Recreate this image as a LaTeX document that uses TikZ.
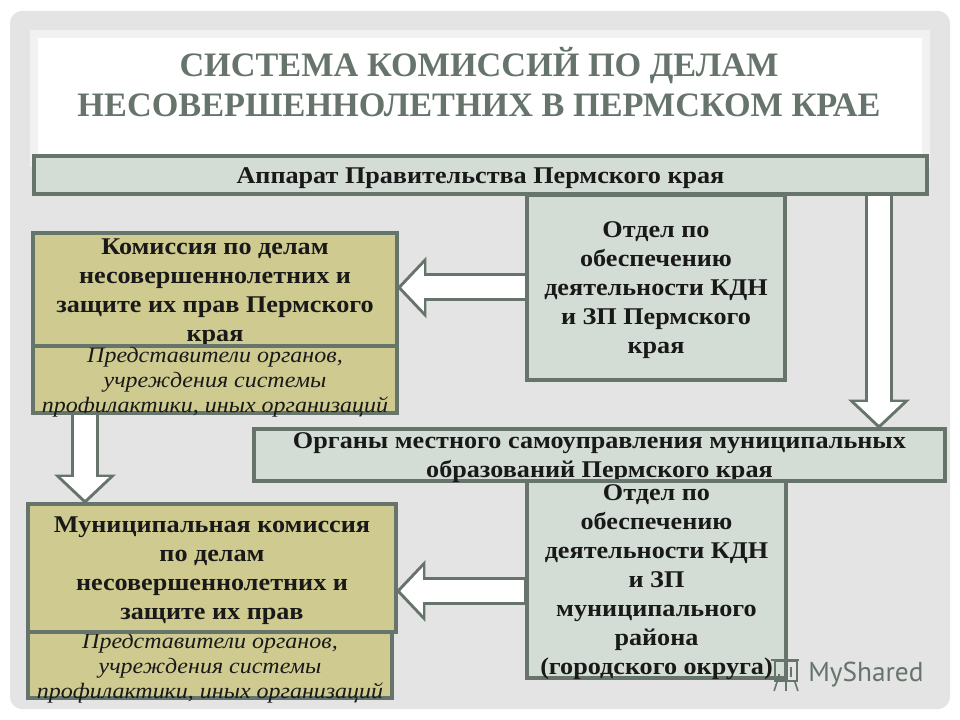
\documentclass[tikz,border=0pt]{standalone}
\usepackage{fontspec}
\setmainfont[FakeStretch=1.09]{Liberation Serif}
\newfontfamily\titlefont{Liberation Serif}
\newfontfamily\wmfont{PT Sans}
\usepackage{xcolor}
\usetikzlibrary{positioning,arrows.meta}
\definecolor{slate}{HTML}{66746B}
\definecolor{sage}{HTML}{D3DDD5}
\definecolor{khaki}{HTML}{CFCB90}
\definecolor{panelgray}{HTML}{E3E4E3}
\definecolor{bandgray}{HTML}{F1F1F1}
\def\px{0.75pt}
\newcommand{\fittxt}[2]{\smash{\raisebox{-6.5pt}{\parbox[c]{\dimexpr 0.75pt*#1\relax}{\centering #2}}}}
\newcommand{\mainsz}{\fontsize{18}{21.75}\selectfont}
\newcommand{\smallsz}{\fontsize{16.5}{18.6}\selectfont}

\begin{document}
\begin{tikzpicture}[x=0.75pt, y=-0.75pt,
  box/.style={draw=slate, line width=2.4pt, inner sep=0pt, outer sep=0pt, align=center, text=black!90},
  dept/.style={box, fill=sage, font=\mainsz\bfseries},
  comm/.style={box, fill=khaki, font=\mainsz\bfseries},
  reps/.style={box, fill=khaki, font=\smallsz\itshape},
  blockarr/.style={
    preaction={draw=slate, line width=21pt, shorten <=0pt, shorten >=0pt, -{Triangle[length=22pt, width=45pt]}},
    draw=white, line width=16.5pt, shorten <=1.2pt, shorten >=3.2pt,
    -{Triangle[length=17pt, width=35pt]}}]
\path[use as bounding box, fill=white] (0,0) rectangle (960,720);
\node[fill=panelgray, rounded corners=9pt, inner sep=0pt, minimum width=940*\px, minimum height=698*\px] (panel) at (480,360) {};
\node[fill=bandgray, inner sep=0pt, minimum width=900*\px, minimum height=137*\px] (band) at (480,98.5) {};
\node[fill=white, inner sep=0pt, minimum width=884*\px, minimum height=129*\px] (titlebg) at (480,102.5) {};
\node[text=slate, font=\fontsize{25.7}{30}\selectfont\titlefont\bfseries, align=center] (title) at (479,82)
  {СИСТЕМА КОМИССИЙ ПО ДЕЛАМ\\ НЕСОВЕРШЕННОЛЕТНИХ В ПЕРМСКОМ КРАЕ};

% upper level
\node[dept, minimum width=893*\px, minimum height=38*\px] (apparat) at (480.5,175) {\fittxt{893}{Аппарат Правительства Пермского края}};
\node[dept, minimum width=258*\px, minimum height=185*\px] (otdel) at (656,287.5)
  {\fittxt{258}{Отдел по\\ обеспечению\\ деятельности КДН\\ и ЗП Пермского\\ края}};
\node[comm, minimum width=364*\px, minimum height=113*\px] (kdn) at (215,289.5)
  {\fittxt{364}{Комиссия по делам\\ несовершеннолетних и\\ защите их прав Пермского\\ края}};
\node[reps, minimum width=364*\px, minimum height=67*\px] (kdnreps) at (215,379.5)
  {\fittxt{364}{Представители органов,\\ учреждения системы\\ профилактики, иных организаций}};

% municipal level
\node[dept, minimum width=691*\px, minimum height=52*\px] (organy) at (599.5,455)
  {\fittxt{691}{Органы местного самоуправления муниципальных\\ образований Пермского края}};
\node[dept, minimum width=259*\px, minimum height=197*\px] (otdelmun) at (656.5,579.5)
  {\fittxt{259}{Отдел по\\ обеспечению\\ деятельности КДН\\ и ЗП\\ муниципального\\ района\\ (городского округа)}};
\node[reps, minimum width=364*\px, minimum height=66*\px] (munreps) at (210,665)
  {\fittxt{364}{Представители органов,\\ учреждения системы\\ профилактики, иных организаций}};
\node[comm, minimum width=368*\px, minimum height=128*\px] (mun) at (212,568)
  {\fittxt{368}{Муниципальная комиссия\\ по делам\\ несовершеннолетних и\\ защите их прав}};

% free ends of the block arrows
\coordinate (startright) at (879,194.5);
\coordinate (startleft) at (85,413);
\coordinate (startlow) at (526,591);

\draw[blockarr] (otdel.west) -- (otdel.west -| kdn.east);
\draw[blockarr] (startright) -- (startright |- organy.north);
\draw[blockarr] (startleft) -- (startleft |- mun.north);
\draw[blockarr] (startlow) -- (startlow -| mun.east);

% watermark
\node[text=slate, font=\fontsize{20.5}{20}\selectfont\wmfont, anchor=west, inner sep=0pt] (wmark) at (808,675) {MyShared};
\node[draw=slate, line width=1.4pt, inner sep=0pt, minimum width=22*\px, minimum height=20*\px] (wmboard) at (786,671) {};
\draw[slate, line width=1.6pt] (wmboard.north west) ++(-3,0) -- ++(28,0);
\draw[slate, line width=1.2pt] (wmboard.south) -- ++(0,9);
\draw[slate, line width=1.2pt] (wmboard.south west) ++(3,0) -- ++(-3,9);
\draw[slate, line width=1.2pt] (wmboard.south east) ++(-3,0) -- ++(3,9);
\draw[slate, line width=1.5pt] (779,677) -- (779,674) (785,677) -- (785,671) (791,677) -- (791,667);
\end{tikzpicture}
\end{document}
